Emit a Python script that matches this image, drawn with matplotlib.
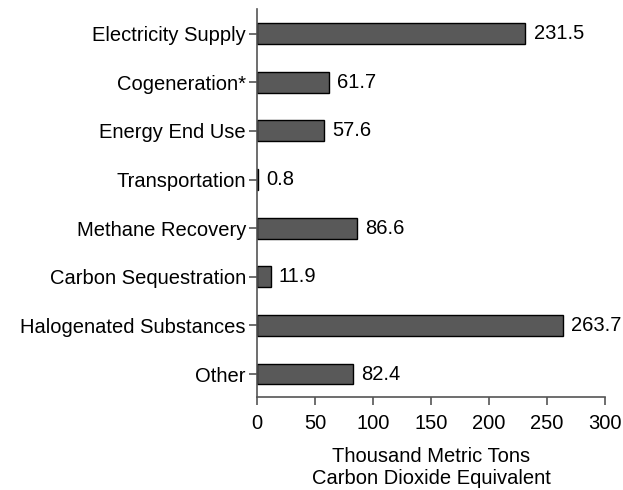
"""Horizontal bar chart of emission reductions by sector."""
import matplotlib
matplotlib.use("Agg")
import matplotlib.pyplot as plt
import numpy as np

categories = [
    "Electricity Supply",
    "Cogeneration*",
    "Energy End Use",
    "Transportation",
    "Methane Recovery",
    "Carbon Sequestration",
    "Halogenated Substances",
    "Other",
]
values = [231.5, 61.7, 57.6, 0.8, 86.6, 11.9, 263.7, 82.4]
x_ticks = [0, 50, 100, 150, 200, 250, 300]

plt.rcParams["font.family"] = ["Liberation Sans", "DejaVu Sans"]
FS = 14.5
AXIS_COLOR = "#555555"

fig = plt.figure(figsize=(6.23, 4.90), dpi=100)
ax = fig.add_axes([0.4125, 0.19, 0.5585, 0.792])

y_pos = np.arange(len(categories))
ax.barh(y_pos, values, height=0.43, color="#595959", edgecolor="black", linewidth=1.0)

for y, v in zip(y_pos, values):
    ax.text(v + 7, y, f"{v:.1f}", va="center", ha="left", fontsize=FS)

ax.set_yticks(y_pos)
ax.set_yticklabels(categories, fontsize=FS)
ax.set_ylim(len(categories) - 0.53, -0.51)
ax.set_xlim(0, 300)
ax.set_xticks(x_ticks)
ax.set_xticklabels([str(t) for t in x_ticks], fontsize=FS)
ax.set_xlabel("Thousand Metric Tons\nCarbon Dioxide Equivalent", fontsize=FS, labelpad=10)

for side in ["top", "right"]:
    ax.spines[side].set_visible(False)
for side in ["left", "bottom"]:
    ax.spines[side].set_color(AXIS_COLOR)
    ax.spines[side].set_linewidth(1.2)
ax.tick_params(axis="y", direction="out", length=5.5, width=1.2, color=AXIS_COLOR, pad=2.5)
ax.tick_params(axis="x", direction="out", length=5.5, width=1.2, color=AXIS_COLOR, pad=7)

plt.savefig("out.png", dpi=100)
plt.close()
